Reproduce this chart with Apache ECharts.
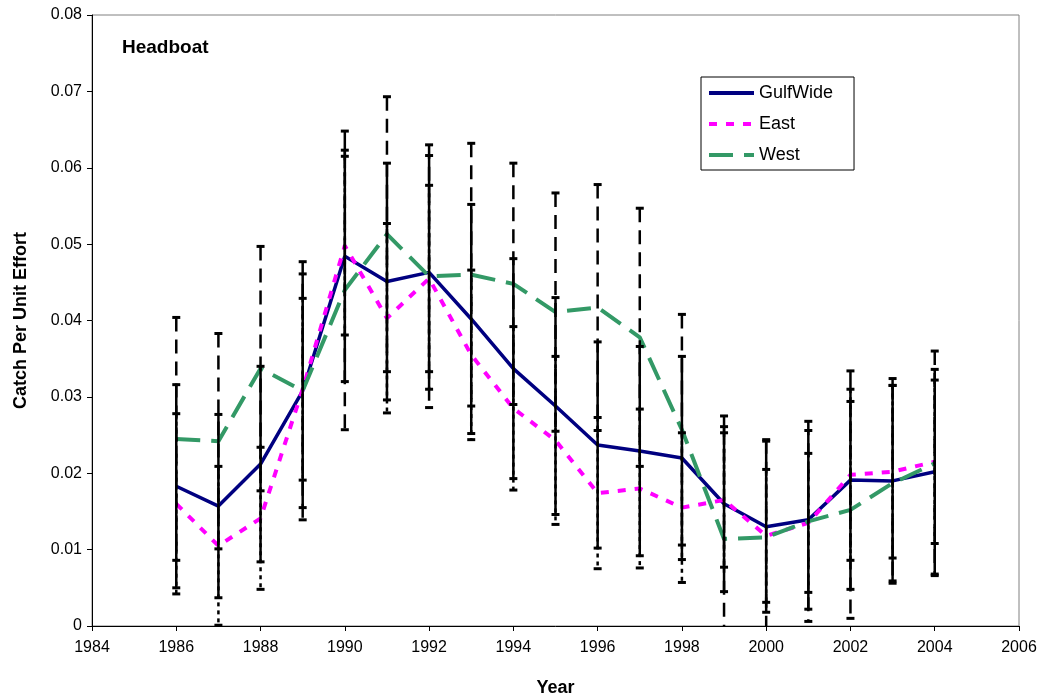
<!DOCTYPE html>
<html>
<head>
<meta charset="utf-8">
<script src="https://cdn.jsdelivr.net/npm/echarts@6/dist/echarts.min.js"></script>
<style>
  html, body { margin: 0; padding: 0; background: #fff; }
  #chart { width: 1043px; height: 700px; }
</style>
</head>
<body>
<div id="chart"></div>
<script>
// years on the x axis
const years = [1986, 1987, 1988, 1989, 1990, 1991, 1992, 1993, 1994, 1995,
  1996, 1997, 1998, 1999, 2000, 2001, 2002, 2003, 2004]

// CPUE means
const gulfWide = [0.0183, 0.0157, 0.0212, 0.0308, 0.0484, 0.0451, 0.0463, 0.0402, 0.0337, 0.0288,
  0.0237, 0.0229, 0.0220, 0.0160, 0.0130, 0.0139, 0.0191, 0.0190, 0.0202]
const east = [0.0160, 0.0105, 0.0141, 0.0310, 0.0498, 0.0403, 0.0455, 0.0355, 0.0285, 0.0243,
  0.0174, 0.0180, 0.0155, 0.0165, 0.0118, 0.0135, 0.0198, 0.0202, 0.0215]
const west = [0.0245, 0.0242, 0.0337, 0.0308, 0.0440, 0.0513, 0.0458, 0.0460, 0.0448, 0.0411,
  0.0417, 0.0378, 0.0257, 0.0114, 0.0116, 0.0137, 0.0152, 0.0187, 0.0213]

// half-widths of the error bars
const gulfErr = [0.0133, 0.0120, 0.0128, 0.0153, 0.0164, 0.0155, 0.0153, 0.0150, 0.0144, 0.0142,
  0.0135, 0.0137, 0.0133, 0.0115, 0.0112, 0.0117, 0.0143, 0.0134, 0.0134]
const eastErr = [0.0118, 0.0104, 0.0093, 0.0119, 0.0117, 0.0124, 0.0122, 0.0111, 0.0107, 0.0110,
  0.0099, 0.0104, 0.0098, 0.0088, 0.0087, 0.0091, 0.0112, 0.0113, 0.0107]
const westErr = [0.0159, 0.0141, 0.0160, 0.0169, 0.0183, 0.0180, 0.0172, 0.0172, 0.0158, 0.0156,
  0.0161, 0.0169, 0.0151, 0.0147, 0.0128, 0.0131, 0.0142, 0.0128, 0.0147]

const yTicks = [0, 0.01, 0.02, 0.03, 0.04, 0.05, 0.06, 0.07, 0.08]

const FONT = "'Liberation Sans', Arial, sans-serif"

const pairs = (vals) => years.map((y, i) => [y, vals[i]])
const bars = (vals, errs) => years.map((y, i) => [y, vals[i] - errs[i], vals[i] + errs[i]])

const errorBarSeries = (name, vals, errs, dash) => ({
  type: 'custom',
  name,
  z: 5,
  clip: true,
  data: bars(vals, errs),
  encode: { x: 0, y: [1, 2] },
  renderItem: (params, api) => {
    const lo = api.coord([api.value(0), api.value(1)])
    const hi = api.coord([api.value(0), api.value(2)])
    const cap = 4
    const style = { stroke: '#000', lineWidth: 2.5, lineDash: dash }
    const capStyle = { stroke: '#000', lineWidth: 3 }
    return {
      type: 'group',
      children: [
        { type: 'line', shape: { x1: hi[0], y1: hi[1], x2: lo[0], y2: lo[1] }, style },
        { type: 'line', shape: { x1: hi[0] - cap, y1: hi[1], x2: hi[0] + cap, y2: hi[1] }, style: capStyle },
        { type: 'line', shape: { x1: lo[0] - cap, y1: lo[1], x2: lo[0] + cap, y2: lo[1] }, style: capStyle }
      ]
    }
  }
})

const chart = echarts.init(document.getElementById('chart'))
chart.setOption({
  animation: false,
  textStyle: { fontFamily: FONT },
  title: {
    text: 'Headboat',
    left: 117,
    top: 33,
    textStyle: { fontFamily: FONT, fontSize: 19, fontWeight: 'bold', color: '#000' }
  },
  legend: {
    data: ['GulfWide', 'East', 'West'],
    orient: 'vertical',
    left: 701,
    top: 77,
    padding: [7, 21, 6, 6],
    borderColor: '#000',
    borderWidth: 1,
    itemWidth: 45,
    itemHeight: 16,
    itemGap: 13,
    itemStyle: { opacity: 0 },
    lineStyle: { width: 4 },
    textStyle: { fontFamily: FONT, fontSize: 18, color: '#000' }
  },
  grid: {
    left: 92, right: 24, top: 15, bottom: 74,
    outerBoundsMode: 'none',
    containLabel: false,
    show: true, borderColor: '#808080', borderWidth: 1
  },
  xAxis: {
    type: 'value',
    min: 1984, max: 2006, interval: 2,
    name: 'Year',
    nameLocation: 'middle',
    nameGap: 53,
    nameTextStyle: { fontFamily: FONT, fontSize: 18, fontWeight: 'bold', color: '#000' },
    axisLine: { lineStyle: { color: '#000', width: 1 } },
    axisTick: { show: true, length: 5, lineStyle: { color: '#000' } },
    axisLabel: { fontFamily: FONT, fontSize: 16, color: '#000', margin: 14, formatter: (v) => String(v) },
    splitLine: { show: false }
  },
  yAxis: {
    type: 'value',
    min: yTicks[0], max: yTicks[yTicks.length - 1], interval: 0.01,
    name: 'Catch Per Unit Effort',
    nameLocation: 'middle',
    nameGap: 62,
    nameTextStyle: { fontFamily: FONT, fontSize: 18, fontWeight: 'bold', color: '#000' },
    axisLine: { show: true, lineStyle: { color: '#000', width: 1 } },
    axisTick: { show: true, length: 5, lineStyle: { color: '#000' } },
    axisLabel: {
      fontFamily: FONT, fontSize: 16, color: '#000', margin: 10,
      formatter: (v) => v === 0 ? '0' : v.toFixed(2)
    },
    splitLine: { show: false }
  },
  series: [
    {
      name: 'GulfWide', type: 'line', data: pairs(gulfWide),
      symbol: 'none', z: 3,
      itemStyle: { color: '#000080' },
      lineStyle: { color: '#000080', width: 3.5 }
    },
    {
      name: 'East', type: 'line', data: pairs(east),
      symbol: 'none', z: 3,
      itemStyle: { color: '#ff00ff' },
      lineStyle: { color: '#ff00ff', width: 4, type: [8, 9] }
    },
    {
      name: 'West', type: 'line', data: pairs(west),
      symbol: 'none', z: 3,
      itemStyle: { color: '#339966' },
      lineStyle: { color: '#339966', width: 4, type: [24, 11] }
    },
    errorBarSeries('westErr', west, westErr, [14, 8]),
    errorBarSeries('eastErr', east, eastErr, [4, 4]),
    errorBarSeries('gulfErr', gulfWide, gulfErr, null)
  ]
})
</script>
</body>
</html>
